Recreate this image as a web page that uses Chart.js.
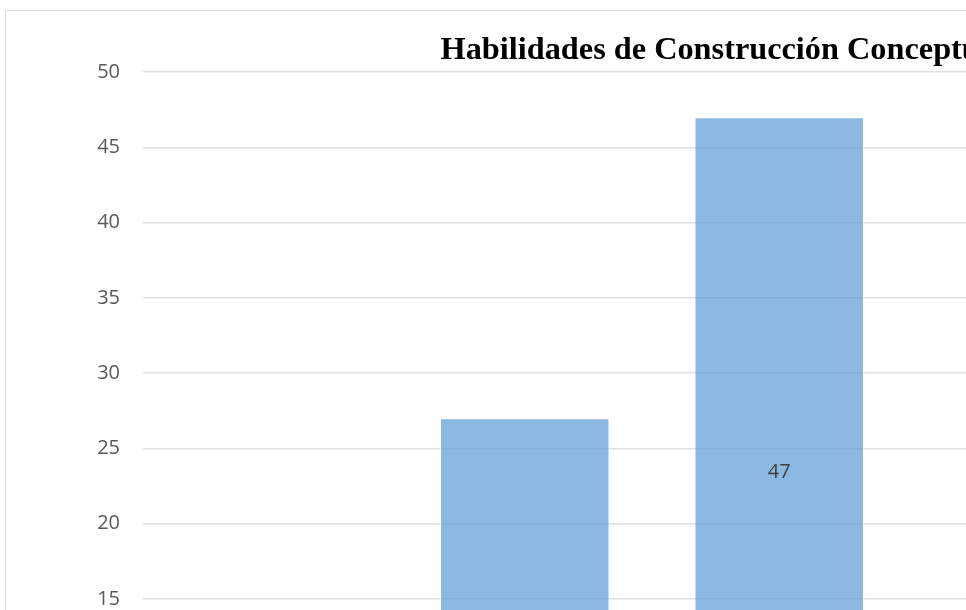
<!DOCTYPE html>
<html>
<head>
<meta charset="utf-8">
<script src="https://cdn.jsdelivr.net/npm/chart.js@4.4.0/dist/chart.umd.min.js"></script>
<style>
  html, body { margin: 0; padding: 0; background: #fff; overflow: hidden; }
  #frame {
    position: absolute; left: 5px; top: 10px;
    width: 1420px; height: 898px;
    border: 1px solid #d9d9d9;
  }
  #chart { display: block; }
</style>
</head>
<body>
<div id="frame"><canvas id="chart" width="1420" height="898"></canvas></div>
<script>
// values (only 27 and 47 are visible, the rest is cropped away)
const categories = ['Deficiente', 'Regular', 'Bueno', 'Muy bueno', 'Excelente'];
const values = [5, 27, 47, 13, 8];
const yTicks = [0, 5, 10, 15, 20, 25, 30, 35, 40, 45, 50];

// draws the value in the middle of each bar, like the Excel data labels
const barLabels = {
  id: 'barLabels',
  afterDatasetsDraw(chart) {
    const ctx = chart.ctx;
    const meta = chart.getDatasetMeta(0);
    ctx.save();
    ctx.font = '20px "Open Sans"';
    ctx.fillStyle = '#404040';
    ctx.textAlign = 'center';
    ctx.textBaseline = 'middle';
    meta.data.forEach((bar, i) => {
      const mid = (bar.y + bar.base) / 2;
      ctx.fillText(String(values[i]), bar.x, mid + 2);
    });
    ctx.restore();
  }
};

const ctx = document.getElementById('chart').getContext('2d');
new Chart(ctx, {
  type: 'bar',
  data: {
    labels: categories,
    datasets: [{
      data: values,
      backgroundColor: 'rgba(91, 155, 213, 0.7)',
      borderColor: 'rgba(255, 255, 255, 0.5)',
      borderWidth: 1,
      barPercentage: 0.666,
      categoryPercentage: 1
    }]
  },
  options: {
    responsive: false,
    animation: false,
    layout: { padding: { left: 24, right: 10.5, top: 0, bottom: 0 } },
    plugins: {
      legend: { display: false },
      tooltip: { enabled: false },
      title: {
        display: true,
        text: 'Habilidades de Construcción Conceptual',
        color: '#000',
        font: { family: '"Liberation Serif"', size: 32.3, weight: 'bold', lineHeight: 1.2 },
        padding: { top: 20, bottom: 2.2 }
      }
    },
    scales: {
      x: {
        grid: { display: false },
        border: { color: '#d9d9d9' },
        ticks: { color: '#595959', font: { family: '"Open Sans"', size: 20 } },
        afterFit(scale) { scale.height = 84; }
      },
      y: {
        min: 0,
        max: 50,
        afterBuildTicks(scale) { scale.ticks = yTicks.map(v => ({ value: v })); },
        grid: { color: '#e0e0e0', lineWidth: 1.5, drawTicks: false },
        border: { display: false },
        ticks: { color: '#595959', padding: 23, font: { family: '"Open Sans"', size: 20 } },
        afterFit(scale) { scale.width = 113; }
      }
    }
  },
  plugins: [barLabels]
});
</script>
</body>
</html>
